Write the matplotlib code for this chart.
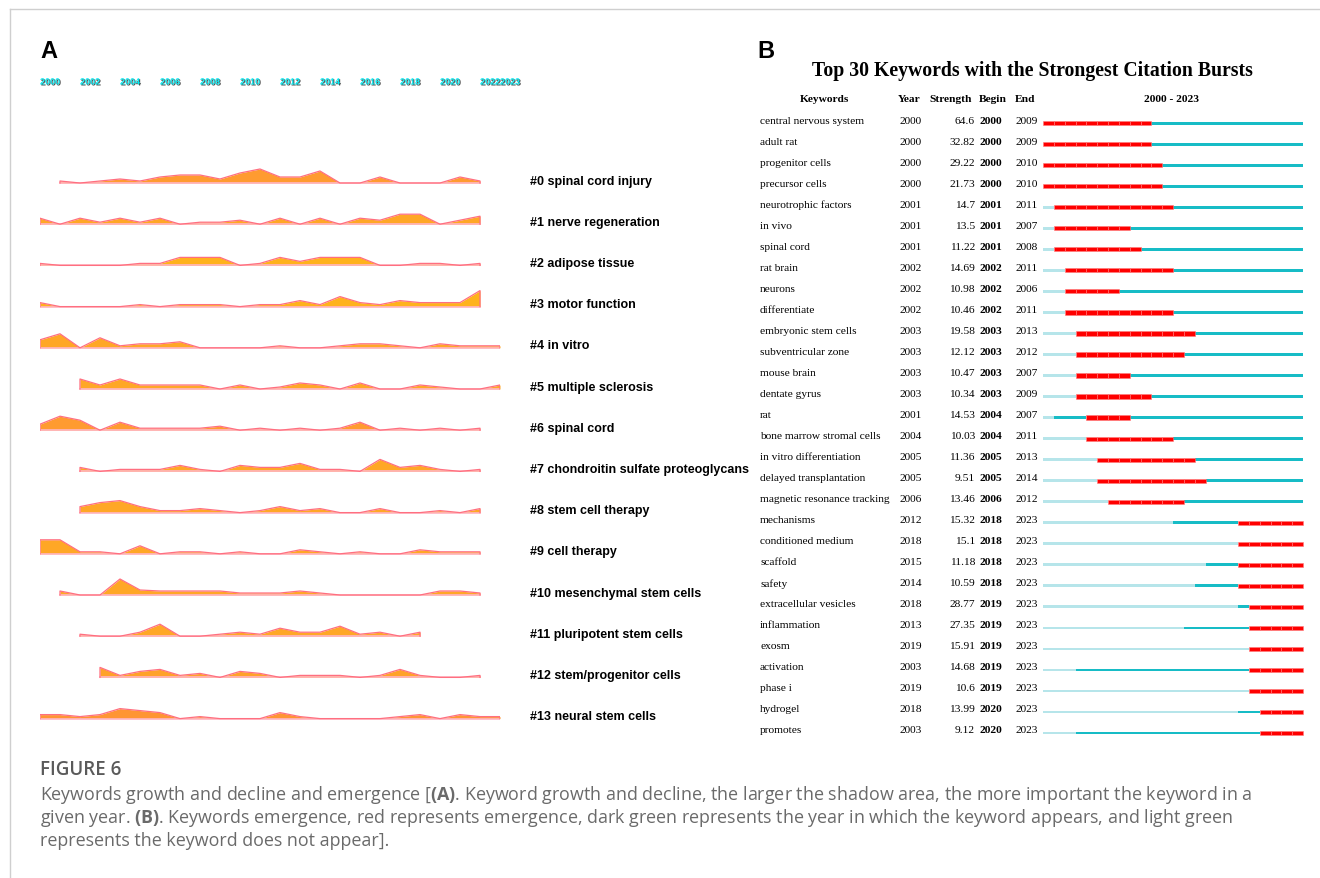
import matplotlib
matplotlib.use("Agg")
import matplotlib.pyplot as plt
import matplotlib.patheffects as pe
from matplotlib.lines import Line2D
from matplotlib.transforms import blended_transform_factory

# ---- panel A: keyword timelines (counts per year) ----
topic_labels = [
    "#0 spinal cord injury", "#1 nerve regeneration", "#2 adipose tissue",
    "#3 motor function", "#4 in vitro", "#5 multiple sclerosis", "#6 spinal cord",
    "#7 chondroitin sulfate proteoglycans", "#8 stem cell therapy",
    "#9 cell therapy", "#10 mesenchymal stem cells", "#11 pluripotent stem cells",
    "#12 stem/progenitor cells", "#13 neural stem cells",
]
topic_start = [2001, 2000, 2000, 2000, 2000, 2002, 2000, 2002, 2002, 2000, 2001, 2002, 2003, 2000]
topic_counts = [
    [1, 0, 1, 2, 1, 3, 4, 4, 2, 5, 7, 3, 3, 6, 0, 0, 3, 0, 0, 0, 3, 1],
    [3, 0, 3, 1, 3, 1, 3, 0, 1, 1, 2, 0, 3, 0, 3, 0, 3, 2, 5, 5, 0, 2, 4],
    [1, 0, 0, 0, 0, 1, 1, 4, 4, 4, 0, 1, 4, 2, 4, 4, 4, 0, 0, 1, 1, 0, 1],
    [2, 0, 0, 0, 0, 1, 0, 1, 1, 1, 0, 1, 1, 3, 1, 5, 2, 1, 3, 2, 2, 2, 8],
    [4, 7, 0, 5, 1, 2, 2, 3, 0, 0, 0, 0, 1, 0, 0, 1, 2, 2, 1, 0, 2, 1, 1, 1],
    [5, 2, 5, 2, 2, 2, 2, 0, 2, 0, 1, 3, 2, 0, 3, 0, 0, 2, 1, 0, 0, 2],
    [3, 7, 5, 0, 4, 1, 1, 1, 1, 2, 0, 1, 0, 1, 0, 1, 4, 0, 1, 0, 1, 0, 1],
    [2, 0, 1, 1, 1, 3, 1, 0, 3, 2, 2, 4, 1, 1, 0, 6, 2, 3, 1, 0, 1],
    [3, 5, 6, 3, 1, 1, 2, 1, 0, 1, 3, 1, 2, 0, 0, 2, 0, 0, 1, 0, 2],
    [7, 7, 1, 1, 0, 4, 0, 1, 1, 0, 1, 0, 0, 2, 1, 0, 1, 0, 0, 2, 1, 1, 1],
    [2, 0, 0, 8, 2.5, 2, 2, 2, 2, 1, 1, 1, 2, 1, 0, 0, 0, 0, 0, 2, 2, 1],
    [1, 0, 0, 2, 6, 0, 0, 1, 2, 1, 4, 2, 2, 5, 1, 2, 0, 2],
    [5, 1, 3, 4, 1, 2, 0, 3, 2, 0, 1, 1, 1, 0, 1, 4, 1, 0, 0, 1],
    [2, 2, 1, 2, 5, 4, 3, 0, 1, 0, 0, 0, 3, 1, 0, 0, 0, 0, 1, 2, 0, 2, 1, 1],
]
topic_colors = ["#FF9B30", "#FFA726", "#FFB21C", "#FFB21C", "#FFA726", "#FFA726", "#FF9B30",
                "#FFA726", "#FFA726", "#FFA726", "#FFA726", "#FFA726", "#FFA229", "#FF9533"]
tick_years = [2000, 2002, 2004, 2006, 2008, 2010, 2012, 2014, 2016, 2018, 2020, 2022, 2023]

# ---- panel B: citation bursts ----
kw = ["central nervous system", "adult rat", "progenitor cells", "precursor cells",
      "neurotrophic factors", "in vivo", "spinal cord", "rat brain", "neurons",
      "differentiate", "embryonic stem cells", "subventricular zone", "mouse brain",
      "dentate gyrus", "rat", "bone marrow stromal cells", "in vitro differentiation",
      "delayed transplantation", "magnetic resonance tracking", "mechanisms",
      "conditioned medium", "scaffold", "safety", "extracellular vesicles",
      "inflammation", "exosm", "activation", "phase i", "hydrogel", "promotes"]
kw_year = [2000, 2000, 2000, 2000, 2001, 2001, 2001, 2002, 2002, 2002, 2003, 2003, 2003, 2003,
           2001, 2004, 2005, 2005, 2006, 2012, 2018, 2015, 2014, 2018, 2013, 2019, 2003, 2019,
           2018, 2003]
kw_strength = ["64.6", "32.82", "29.22", "21.73", "14.7", "13.5", "11.22", "14.69", "10.98",
               "10.46", "19.58", "12.12", "10.47", "10.34", "14.53", "10.03", "11.36", "9.51",
               "13.46", "15.32", "15.1", "11.18", "10.59", "28.77", "27.35", "15.91", "14.68",
               "10.6", "13.99", "9.12"]
kw_begin = [2000, 2000, 2000, 2000, 2001, 2001, 2001, 2002, 2002, 2002, 2003, 2003, 2003, 2003,
            2004, 2004, 2005, 2005, 2006, 2018, 2018, 2018, 2018, 2019, 2019, 2019, 2019, 2019,
            2020, 2020]
kw_end = [2009, 2009, 2010, 2010, 2011, 2007, 2008, 2011, 2006, 2011, 2013, 2012, 2007, 2009,
          2007, 2011, 2013, 2014, 2012, 2023, 2023, 2023, 2023, 2023, 2023, 2023, 2023, 2023,
          2023, 2023]

W, H = 1320, 879
fig = plt.figure(figsize=(W / 100, H / 100), dpi=100)
plt.rcParams["mathtext.fontset"] = "custom"
plt.rcParams["mathtext.bf"] = "Open Sans:bold"

# frame lines of the figure box
fig.add_artist(Line2D([10 / W, 1], [1 - 10 / H] * 2, color="#cfcfcf", lw=1, transform=fig.transFigure))
fig.add_artist(Line2D([10 / W] * 2, [0, 1 - 10 / H], color="#cfcfcf", lw=1, transform=fig.transFigure))

# ---- panel A ----
row_px = 41.2
axA = fig.add_axes([40 / W, 1 - 730 / H, 460 / W, 590 / H])
axA.set_xlim(2000, 2023)
axA.set_ylim((730 - 184) / row_px, (140 - 184) / row_px)
axA.axis("off")
unit = 2.0 / row_px

for r, (start, counts) in enumerate(zip(topic_start, topic_counts)):
    xs = [start + i for i in range(len(counts))]
    ys = [r - c * unit for c in counts]
    axA.fill_between(xs, r, ys, color=topic_colors[r], lw=0)
    axA.plot(xs, [r] * len(xs), color="#FFB6C4", lw=1.2)
    axA.plot([xs[0]] + xs + [xs[-1]], [r] + ys + [r], color="#FF6F80", lw=0.9)
    axA.text(2024.5, r - 0.06, topic_labels[r], ha="left", va="center", fontsize=9,
             fontweight="bold", family="Liberation Sans", clip_on=False)

for yr in tick_years:
    axA.text(yr, (83 - 184) / row_px, str(yr), ha="left", va="center", fontsize=6.5,
             fontweight="bold", family="Liberation Sans", color="#00E8F0", clip_on=False,
             path_effects=[pe.SimplePatchShadow(offset=(0.7, -0.7), shadow_rgbFace="#333333", alpha=0.9),
                           pe.Normal()])

fig.text(40 / W, 1 - 52 / H, "A", fontsize=17, fontweight="bold", family="Liberation Sans",
         ha="left", va="center")
fig.text(757 / W, 1 - 52 / H, "B", fontsize=17, fontweight="bold", family="Liberation Sans",
         ha="left", va="center")

# ---- panel B ----
rp = 21.03
axB = fig.add_axes([755 / W, 1 - 745 / H, 555 / W, 655 / H])
axB.set_xlim(2000 - (1043 - 755) / 10.833, 2024 + 7 / 10.833)
axB.set_ylim((745 - 121) / rp, (90 - 121) / rp)
axB.axis("off")
tr = blended_transform_factory(fig.transFigure, axB.transData)

fig.text(1032 / W, 1 - 71 / H, "Top 30 Keywords with the Strongest Citation Bursts",
         ha="center", va="center", fontsize=14.2, fontweight="bold", family="Liberation Serif")
hdr = dict(transform=tr, va="center", fontsize=8.2, fontweight="bold", family="Liberation Serif")
hy = (100 - 121) / rp
axB.text(825 / W, hy, "Keywords", ha="center", **hdr)
axB.text(898 / W, hy, "Year", ha="left", **hdr)
axB.text(951 / W, hy, "Strength", ha="center", **hdr)
axB.text(979 / W, hy, "Begin", ha="left", **hdr)
axB.text(1015 / W, hy, "End", ha="left", **hdr)
axB.text(1172 / W, hy, "2000 - 2023", ha="center", **hdr)

light, dark, red = "#B6E5EA", "#17BCC6", "#FF0000"
cell = dict(transform=tr, va="center", fontsize=8.2, family="Liberation Serif")
for i in range(len(kw)):
    axB.text(760 / W, i, kw[i], ha="left", **cell)
    axB.text(899 / W, i, str(kw_year[i]), ha="left", **cell)
    axB.text(975 / W, i, kw_strength[i], ha="right", **cell)
    axB.text(980 / W, i, str(kw_begin[i]), ha="left", fontweight="bold", **cell)
    axB.text(1015 / W, i, str(kw_end[i]), ha="left", **cell)
    yb = i + 0.15
    if kw_year[i] > 2000:
        axB.barh(yb, kw_year[i] - 2000, left=2000, height=0.13, color=light, lw=0)
    if kw_begin[i] > kw_year[i]:
        axB.barh(yb, kw_begin[i] - kw_year[i], left=kw_year[i], height=0.13, color=dark, lw=0)
    if kw_end[i] < 2023:
        axB.barh(yb, 2023 - kw_end[i], left=kw_end[i] + 1, height=0.13, color=dark, lw=0)
    yrs = list(range(kw_begin[i], kw_end[i] + 1))
    axB.barh([yb] * len(yrs), [1] * len(yrs), left=yrs, height=0.2, color=red,
             edgecolor="#FF7A7A", lw=0.4)

# ---- caption ----
fig.text(40 / W, 1 - 770 / H, "FIGURE 6", fontsize=13.5, family="Open Sans", color="#5a5a5a",
         ha="left", va="center", fontweight="semibold")
cap = [
    r"Keywords growth and decline and emergence [$\mathbf{(A)}$. Keyword growth and decline, the larger the shadow area, the more important the keyword in a",
    r"given year. $\mathbf{(B)}$. Keywords emergence, red represents emergence, dark green represents the year in which the keyword appears, and light green",
    "represents the keyword does not appear].",
]
for j, line in enumerate(cap):
    fig.text(40 / W, 1 - (795 + 23 * j) / H, line, fontsize=12.9, family="Open Sans", color="#6a6a6a",
             ha="left", va="center")

fig.savefig("out.png", dpi=100)
